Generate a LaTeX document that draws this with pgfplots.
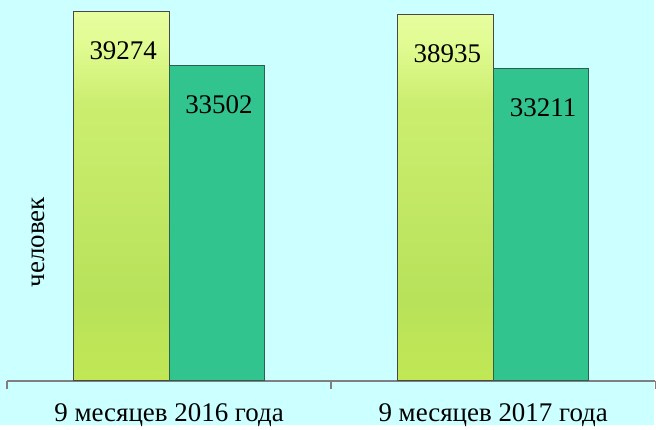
\documentclass[border=0pt]{standalone}
\usepackage{fontspec}
\setmainfont{Liberation Serif}
\usepackage{pgfplots}
\pgfplotsset{compat=1.18}
\definecolor{bg}{HTML}{CCFFFF}
\definecolor{grn}{HTML}{32C48E}
\definecolor{grnedge}{HTML}{2F5E4C}
\definecolor{baredge}{HTML}{484848}
\definecolor{axgray}{HTML}{808080}
\definecolor{yba}{HTML}{E8FF5C}
\definecolor{ybb}{HTML}{CCF04C}
\definecolor{ybc}{HTML}{B8E25A}
\definecolor{ybd}{HTML}{CCEE70}
\definecolor{ybe}{HTML}{E2FC94}
\definecolor{ybf}{HTML}{F8FFC4}
\definecolor{ybg}{HTML}{FFFFE4}
\pgfdeclareverticalshading{ybarshade}{100bp}{color(0bp)=(yba); color(11bp)=(ybb); color(36bp)=(ybc); color(63bp)=(ybd); color(71bp)=(ybe); color(87bp)=(ybf); color(100bp)=(ybg)}
\newcommand{\fs}{\fontsize{27}{31}\selectfont}
\pgfplotstableread{
x yellow green
0 39274 33502
1 38935 33211
}\datatable
\begin{document}
\begin{tikzpicture}[x=1pt,y=1pt]
\fill[bg] (0,0) rectangle (656,426);
\node[rotate=90, font=\fs] at (38,183) {человек};
\begin{axis}[at={(7pt,44pt)}, anchor=south west, scale only axis,
  width=650pt, height=382pt,
  xmin=-0.5, xmax=1.5, ymin=0, ymax=40500,
  axis x line*=bottom, axis y line=none,
  x axis line style={axgray, line width=1.5pt},
  xtick={0,1}, xticklabels={9 месяцев 2016 года, 9 месяцев 2017 года},
  major tick length=0pt,
  minor xtick={-0.5,0.5,1.5}, minor tick length=8pt, tick align=outside,
  minor tick style={axgray, line width=1.5pt},
  xticklabel style={font=\fs, yshift=-19pt},
  ybar, bar width=96pt,
  nodes near coords,
  nodes near coords style={font=\fs, anchor=center, yshift=-39pt, xshift=2pt, text=black},
  /pgf/number format/1000 sep={}, /pgf/number format/assume math mode=true,
  clip=false,
]
\addplot[ybar, bar shift=-48pt, shading=ybarshade, draw=baredge, line width=1pt] table[x=x, y=yellow] {\datatable};
\addplot[ybar, bar shift=48pt, fill=grn, draw=grnedge, line width=1pt] table[x=x, y=green] {\datatable};
\end{axis}
\end{tikzpicture}
\end{document}
